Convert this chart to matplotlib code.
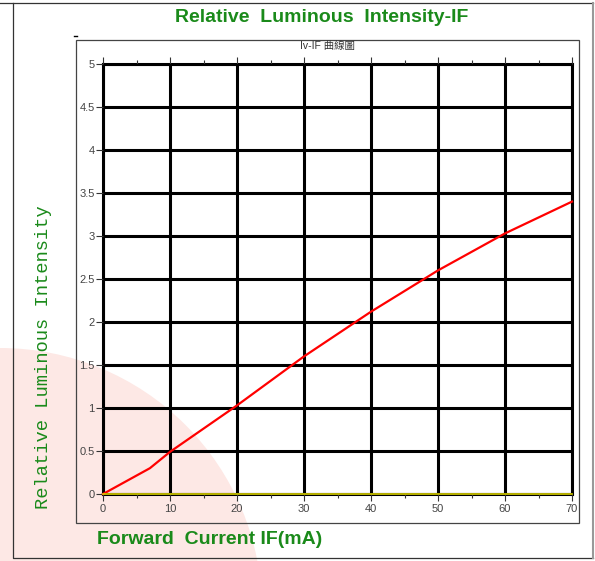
import matplotlib.pyplot as plt
from matplotlib.patches import Ellipse, Rectangle
from matplotlib.lines import Line2D
from matplotlib.ticker import MultipleLocator

# data
current_ma = [0, 7, 10, 20, 30, 40, 50, 60, 70]
rel_intensity = [0, 0.30, 0.49, 1.03, 1.60, 2.12, 2.60, 3.03, 3.40]
base_x = [0, 70]
base_y = [0, 0]

title = "Relative  Luminous  Intensity-IF"
sub_title = "Iv-IF 曲線圖"
x_label = "Forward  Current IF(mA)"
y_label = "Relative Luminous Intensity"

W, H = 595, 561
green = "#1a8a1a"

fig = plt.figure(figsize=(W / 100, H / 100), dpi=100)
fig.patch.set_facecolor("white")

def fx(px):
    return px / W

def fy(py):
    return 1 - py / H

# pale pink disc in the lower left corner, behind everything
fig.patches.append(Ellipse((fx(0), fy(610)), 2 * 262 / W, 2 * 262 / H,
                           transform=fig.transFigure, facecolor="#fde8e5",
                           edgecolor="none", zorder=-5))

# outer frame
fig.lines.append(Line2D([fx(13), fx(13), fx(593)], [fy(3), fy(558), fy(558)],
                        transform=fig.transFigure, color="#333333", lw=0.9))
fig.lines.append(Line2D([fx(0), fx(593)], [fy(3), fy(3)],
                        transform=fig.transFigure, color="#333333", lw=0.9))
fig.lines.append(Line2D([fx(593), fx(593)], [fy(3), fy(558)],
                        transform=fig.transFigure, color="#999999", lw=1.5))
# inner panel
fig.patches.append(Rectangle((fx(76), fy(523)), fx(579) - fx(76), fy(40) - fy(523),
                             transform=fig.transFigure, facecolor="none",
                             edgecolor="#444444", lw=0.9, zorder=1))
fig.lines.append(Line2D([fx(74), fx(77)], [fy(36), fy(36)],
                        transform=fig.transFigure, color="black", lw=1))

ax = fig.add_axes([fx(103), fy(494), fx(572) - fx(103), fy(64) - fy(494)])
ax.patch.set_alpha(0)
ax.set_zorder(2)

ax.plot(current_ma, rel_intensity, color="red", lw=1.6, zorder=4, clip_on=False)
ax.plot(base_x, base_y, color="#d8d000", lw=1.2, zorder=5, clip_on=False)

ax.set_xlim(0, 70)
ax.set_ylim(0, 5)
ax.xaxis.set_major_locator(MultipleLocator(10))
ax.xaxis.set_minor_locator(MultipleLocator(5))
ax.set_yticks([0, 0.5, 1, 1.5, 2, 2.5, 3, 3.5, 4, 4.5, 5])
ax.set_yticklabels(["0", "0.5", "1", "1.5", "2", "2.5", "3", "3.5", "4", "4.5", "5"])

ax.grid(True, which="major", color="black", lw=2.2, zorder=2)
ax.set_axisbelow(False)
for s in ax.spines.values():
    s.set_color("black")
    s.set_linewidth(2.2)

ax.tick_params(axis="x", which="both", top=True, bottom=True, direction="out",
               color="#333333", labelsize=8, labelcolor="#444444", pad=2)
ax.tick_params(axis="x", which="major", length=5, width=0.8)
ax.tick_params(axis="x", which="minor", length=3, width=0.8)
ax.tick_params(axis="y", which="both", left=True, right=False, direction="out",
               color="#333333", length=5, width=0.8, labelsize=8,
               labelcolor="#444444", pad=1)
for lab in ax.get_xticklabels() + ax.get_yticklabels():
    lab.set_fontfamily("Liberation Sans")

fig.text(fx(322), fy(18), title, ha="center", va="center", color=green,
         fontsize=14, fontweight="bold", family="Liberation Sans")
fig.text(fx(327), fy(46), sub_title, ha="center", va="center", color="#333333",
         fontsize=7.5, family=["Liberation Sans", "Noto Sans CJK TC"])
fig.text(fx(97), fy(539), x_label, ha="left", va="center", color=green,
         fontsize=14, fontweight="bold", family="Liberation Sans")
fig.text(fx(43), fy(357), y_label, ha="center", va="center", color=green,
         fontsize=13.5, rotation=90, family="Liberation Mono")

fig.savefig("out.png", dpi=100)
